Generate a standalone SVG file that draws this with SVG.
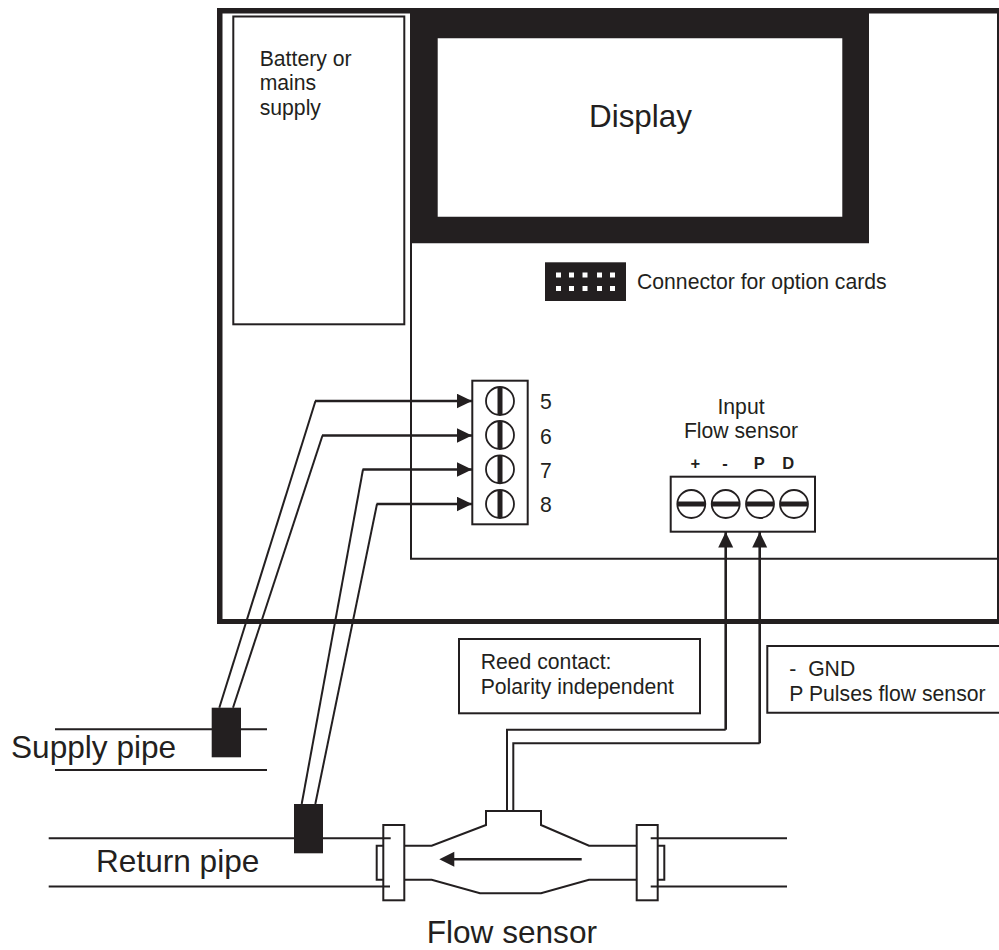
<svg xmlns="http://www.w3.org/2000/svg" width="999" height="950" viewBox="0 0 999 950">
<style>
text{font-family:"Liberation Sans",Arial,sans-serif;fill:#231f20;font-size:21.2px}
.big{font-size:31.6px}
.b{font-weight:bold;font-size:16.5px;text-anchor:middle}
.m{text-anchor:middle}
.l{fill:none;stroke:#231f20;stroke-width:2}
.w{fill:none;stroke:#231f20;stroke-width:2}
.a{fill:none;stroke:#231f20;stroke-width:2.6}
.t{fill:#fff;stroke:#231f20;stroke-width:2}
.k{fill:#231f20}
.s{fill:#fff;stroke:#231f20;stroke-width:1.8}
.d{fill:#fff}
</style>
<defs>
<marker id="ah" markerUnits="userSpaceOnUse" markerWidth="16" markerHeight="16" refX="15.5" refY="7.5" orient="auto"><path d="M0 0L15.5 7.500L0 15Z" fill="#231f20"/></marker>
<g id="sv"><circle r="14" class="s"/><rect x="-2.5" y="-14" width="5" height="28" class="k"/></g>
<g id="sh"><circle r="14" class="s"/><rect x="-14" y="-2.5" width="28" height="5" class="k"/></g>
</defs>
<rect width="999" height="950" fill="#fff"/>
<g id="housing">
<path class="k" fill-rule="evenodd" d="M217 8H999V624H217ZM222.500 13.500V619H997V13.500Z"/>
<path class="l" d="M411 243V558.700H998"/>
</g>
<g id="battery">
<rect class="l" x="233.300" y="16.500" width="171" height="307.800"/>
<text x="259.700" y="65.700">Battery or</text>
<text x="259.700" y="90.300">mains</text>
<text x="259.700" y="114.800">supply</text>
</g>
<g id="display">
<path class="k" fill-rule="evenodd" d="M410 8H869V243.300H410ZM437.700 38.300V216.700H842.300V38.300Z"/>
<text class="m" x="640.500" y="127" style="font-size:31.4px">Display</text>
</g>
<g id="option-connector">
<rect class="k" x="545" y="262.300" width="81" height="38.700"/>
<g class="d"><rect x="556" y="272.500" width="5" height="5"/><rect x="569" y="272.500" width="5" height="5"/><rect x="582.500" y="272.500" width="5" height="5"/><rect x="597" y="272.500" width="5" height="5"/><rect x="610" y="272.500" width="5" height="5"/><rect x="556" y="286" width="5" height="5"/><rect x="569" y="286" width="5" height="5"/><rect x="582.500" y="286" width="5" height="5"/><rect x="597" y="286" width="5" height="5"/><rect x="610" y="286" width="5" height="5"/></g>
<text x="637" y="289">Connector for option cards</text>
</g>
<g id="terminal-left">
<rect class="t" x="472.300" y="380.700" width="55.400" height="143.600"/>
<use href="#sv" x="500" y="401"/><use href="#sv" x="500" y="435"/><use href="#sv" x="500" y="469.300"/><use href="#sv" x="500" y="504"/>
<text x="540" y="409.300">5</text><text x="540" y="443.500">6</text><text x="540" y="478">7</text><text x="540" y="512">8</text>
</g>
<g id="terminal-input">
<text class="m" x="741" y="414">Input</text>
<text class="m" x="741" y="437.700">Flow sensor</text>
<text class="b" x="695.300" y="469.300">+</text><text class="b" x="725" y="469.300">-</text><text class="b" x="759.300" y="469.300">P</text><text class="b" x="788.300" y="469.300">D</text>
<rect class="t" x="670.700" y="476.700" width="144.300" height="55"/>
<use href="#sh" x="691.300" y="504"/><use href="#sh" x="725.700" y="504"/><use href="#sh" x="760" y="504"/><use href="#sh" x="794" y="504"/>
</g>
<g id="note-reed">
<rect class="l" x="459" y="639" width="241" height="74.300"/>
<text x="480.700" y="669.300">Reed contact:</text>
<text x="480.700" y="694">Polarity independent</text>
</g>
<g id="note-pulses">
<path class="l" d="M999 646H767.300V712.700H999"/>
<text x="789.300" y="676" style="white-space:pre">-  GND</text>
<text x="789.300" y="700.700" style="white-space:pre">P Pulses flow sensor</text>
</g>
<g id="supply-pipe">
<path class="l" d="M55 729.300H267M55 770H267"/>
<rect class="k" x="211.700" y="707.700" width="29.300" height="49.600"/>
<text class="big" x="11" y="758.300">Supply pipe</text>
</g>
<g id="return-pipe">
<path class="l" d="M48.700 838.300H390.700M48.700 886.500H390"/>
<rect class="k" x="294" y="804" width="29" height="49.300"/>
<text class="big" x="96" y="872.300">Return pipe</text>
</g>
<g id="flow-sensor">
<path class="l" d="M404 845.700H431.700L486 825V811H541V825L589 845.700H637M404 879.700H431.700L480 893.300H541L589 879.700H637"/>
<rect class="l" x="383.300" y="825" width="21" height="75.300"/>
<rect class="l" x="636.700" y="825" width="21" height="75.300"/>
<path class="l" d="M383.300 845.700H376.700V879.700H383.300M657.700 845.700H664.300V879.700H657.700"/>
<path class="l" d="M650.700 838.300H787M650.700 886.500H787"/>
<path class="k" d="M439.300 859.300L454.300 851.800V858H581.700V860.600H454.300V866.800Z"/>
<text class="big" x="426.700" y="943.200">Flow sensor</text>
</g>
<g id="connectors">
<path class="w" d="M219.300 707.700L315.500 401"/><path class="a" marker-end="url(#ah)" d="M315 401H472"/>
<path class="w" d="M233 707.700L322.500 435.500"/><path class="a" marker-end="url(#ah)" d="M322 435.500H472"/>
<path class="w" d="M301.700 804L363 469.500"/><path class="a" marker-end="url(#ah)" d="M362.500 469.500H472"/>
<path class="w" d="M315.300 804L377 504"/><path class="a" marker-end="url(#ah)" d="M376.500 504H472"/>
<path class="w" d="M507 811V729.700H725.700"/><path class="a" marker-end="url(#ah)" d="M725.700 729.700V532"/>
<path class="w" d="M513.300 811V743.300H759.700"/><path class="a" marker-end="url(#ah)" d="M759.700 743.300V532"/>
</g>
</svg>
